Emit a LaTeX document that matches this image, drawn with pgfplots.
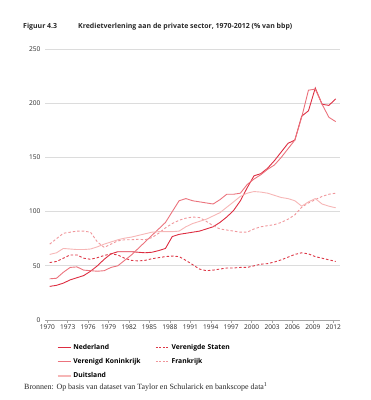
\documentclass[border=0pt]{standalone}
\usepackage{fontspec}
\setmainfont{Open Sans}
\newfontfamily\seriffont{Liberation Serif}
\usepackage{pgfplots}
\usepackage{pgfplotstable}
\pgfplotsset{compat=1.18}
\definecolor{cNL}{RGB}{221,45,65}
\definecolor{cUS}{RGB}{221,55,70}
\definecolor{cUK}{RGB}{235,115,125}
\definecolor{cFR}{RGB}{240,150,155}
\definecolor{cDE}{RGB}{246,182,182}
\definecolor{gridc}{RGB}{220,220,220}
\definecolor{txt}{RGB}{40,40,40}

\pgfplotstableread{
year NL US UK FR DE
1970 31 53 38 70 60.5
1971 32 54 38.5 75 62
1972 34 57 44 80 66
1973 37 60 48.5 81 65.5
1974 39 60 49 82 65
1975 41 57 46 82 65
1976 45 56 45.5 81 65.5
1977 50 57.5 45 72 67.5
1978 56 59.5 45.5 67 70
1979 61 61 48.5 70 72
1980 63 60 50 73 74
1981 63 57 55 74 75.5
1982 63 55 60 74 76.5
1983 62.5 54.5 66 74.5 78
1984 62 55 72 74 79.5
1985 62.5 56.5 78 76 81
1986 64 57.5 84 80 81.5
1987 66 58.5 90 85 81.5
1988 77 59 100 89 81.5
1989 79 58.5 110 92 82
1990 80 55 112 94 86
1991 81 51 110 95 89
1992 82 47 109 94.5 91
1993 84 45.5 108 91 93
1994 86 46 107 87 96
1995 90 47 111 84 99
1996 95 48 116 83 104
1997 101 48 116 82 109
1998 110 48.5 117 81 114
1999 122 48.5 125 81 117
2000 133 50 130 84 118.5
2001 135 51.5 134 86 118
2002 140 52 139 87 117
2003 147 53.5 143 88 115
2004 155 55.5 150 90 113
2005 163 58 158 93 112
2006 166 60.5 166 97 110
2007 188 62 187 104 105
2008 193 61 212 108 109
2009 214 58.5 213 111 112
2010 199 57 199 114 107
2011 198 55.5 187 116 105
2012 204 54 183 117 103.5
}\data

\begin{document}
\begin{tikzpicture}[x=1bp,y=1bp]
\useasboundingbox (-45,-80) rectangle (326,320);
\begin{axis}[
  scale only axis,
  width=295bp, height=271bp,
  at={(0,0)}, anchor=south west,
  xmin=1969.66, xmax=2012.98,
  ymin=0, ymax=250,
  xtick={1970,1973,...,2012},
  ytick={0,50,100,150,200,250},
  xticklabel style={/pgf/number format/1000 sep={}},
  x tick label style={font=\fontsize{6.6}{7}\selectfont, text=txt, yshift=1bp},
  y tick label style={font=\fontsize{6.6}{7}\selectfont, text=txt, xshift=-1bp},
  /pgf/number format/assume math mode=true,
  axis line style={draw=none},
  separate axis lines,
  x axis line style={draw=gray!70, line width=0.6bp, -},
  axis x line*=bottom,
  xtick style={draw=gray!70, line width=0.5bp},
  ytick style={draw=none},
  major tick length=2.5bp,
  xtick align=outside,
  xtick pos=bottom,
  ytick pos=left,
  ymajorgrids,
  grid style={draw=gridc, line width=0.9bp},
  clip=false,
  legend columns=2,
  legend cell align=left,
  legend style={
    at={(rel axis cs:0.04,-0.08)}, anchor=north west,
    draw=none, fill=none,
    font=\fontsize{6.8}{7}\selectfont\bfseries,
    row sep=3.8bp, column sep=0bp, inner sep=0bp,
    /tikz/every even column/.style={text width=80bp},
  },
]
\addplot[color=cNL, line width=0.9bp,
  legend image code/.code={\draw[draw=cNL, line width=1.3bp] (0bp,0bp) -- (13bp,0bp);}]
  table[x expr=\thisrow{year}+0.35, y=NL] {\data};
\addlegendentry{Nederland}
\addplot[color=cUS, line width=0.9bp, dash pattern=on 2.5bp off 2bp,
  legend image code/.code={\draw[draw=cUS, line width=1.3bp, dash pattern=on 2bp off 1.5bp] (0bp,0bp) -- (13bp,0bp);}]
  table[x expr=\thisrow{year}+0.35, y=US] {\data};
\addlegendentry{Verenigde Staten}
\addplot[color=cUK, line width=0.9bp,
  legend image code/.code={\draw[draw=cUK, line width=1.3bp] (0bp,0bp) -- (13bp,0bp);}]
  table[x expr=\thisrow{year}+0.35, y=UK] {\data};
\addlegendentry{Verenigd Koninkrijk}
\addplot[color=cFR, line width=0.9bp, dash pattern=on 2.5bp off 2bp,
  legend image code/.code={\draw[draw=cFR, line width=1.3bp, dash pattern=on 2bp off 1.5bp] (0bp,0bp) -- (13bp,0bp);}]
  table[x expr=\thisrow{year}+0.35, y=FR] {\data};
\addlegendentry{Frankrijk}
\addplot[color=cDE, line width=0.9bp,
  legend image code/.code={\draw[draw=cDE, line width=1.3bp] (0bp,0bp) -- (13bp,0bp);}]
  table[x expr=\thisrow{year}+0.35, y=DE] {\data};
\addlegendentry{Duitsland}
\end{axis}
\node[anchor=base west, font=\fontsize{7}{8}\selectfont\bfseries, text=txt, inner sep=0] at (-22,292) {Figuur 4.3};
\node[anchor=base west, font=\fontsize{7}{8}\selectfont\bfseries, text=txt, inner sep=0] at (33,292) {Kredietverlening aan de private sector, 1970-2012 (\% van bbp)};
\node[anchor=base west, font=\fontsize{8}{9}\selectfont\seriffont, text=txt, inner sep=0] at (-21,-69) {Bronnen: Op basis van dataset van Taylor en Schularick en bankscope data\textsuperscript{1}};
\end{tikzpicture}
\end{document}
